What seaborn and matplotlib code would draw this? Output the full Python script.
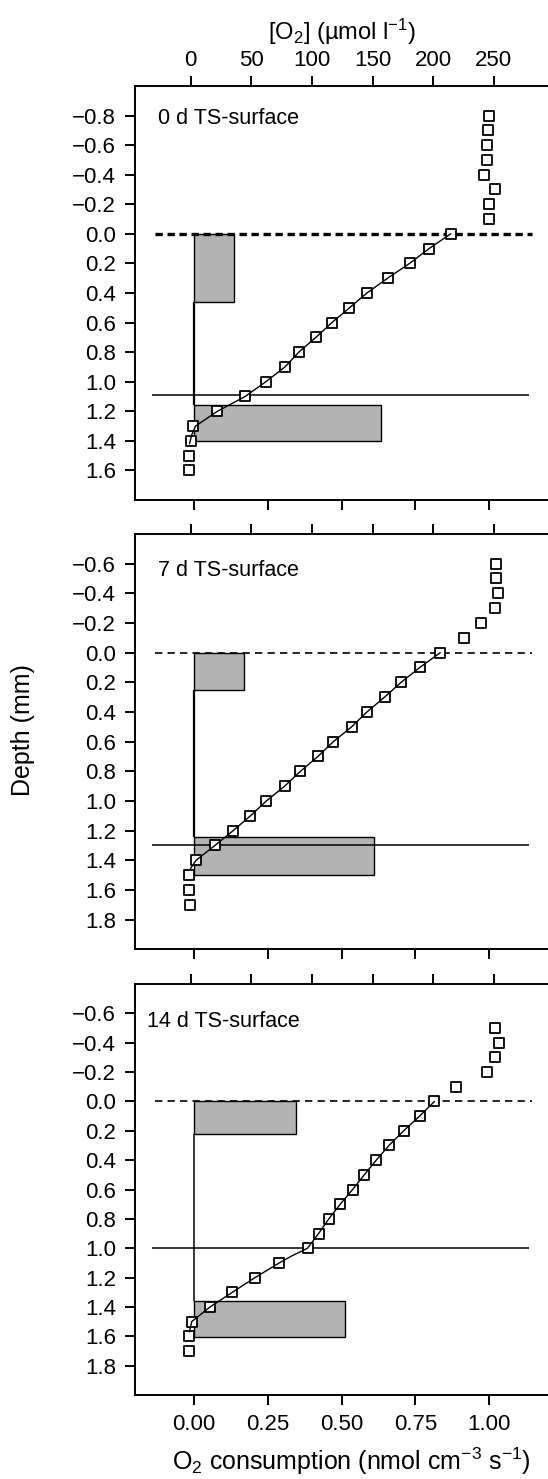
import numpy as np
import matplotlib
matplotlib.use("Agg")
import matplotlib.pyplot as plt
import seaborn as sns

sns.set_theme(style="ticks")
plt.rcParams["font.family"] = ["Liberation Sans", "DejaVu Sans"]
plt.rcParams["mathtext.fontset"] = "custom"
plt.rcParams["mathtext.rm"] = "Liberation Sans"
plt.rcParams["mathtext.it"] = "Liberation Sans:italic"
plt.rcParams["mathtext.bf"] = "Liberation Sans:bold"
plt.rcParams["axes.unicode_minus"] = True

# ---------------- data ----------------
panel_titles = ["0 d TS-surface", "7 d TS-surface", "14 d TS-surface"]

# measured O2 micro-profiles: depth (mm) and [O2] (umol/l)
depth_0d = [-0.8, -0.7, -0.6, -0.5, -0.4, -0.3, -0.2, -0.1, 0.0, 0.1, 0.2, 0.3, 0.4,
            0.5, 0.6, 0.7, 0.8, 0.9, 1.0, 1.1, 1.2, 1.3, 1.4, 1.5, 1.6]
o2_0d = [245.9, 245.0, 244.5, 244.5, 242.3, 251.2, 245.9, 245.9, 214.5, 196.6, 180.6,
         162.4, 145.4, 131.0, 116.5, 103.3, 89.2, 77.8, 62.0, 44.9, 21.5, 1.5, 0.3,
         -1.4, -1.4]

depth_7d = [-0.6, -0.5, -0.4, -0.3, -0.2, -0.1, 0.0, 0.1, 0.2, 0.3, 0.4, 0.5, 0.6,
            0.7, 0.8, 0.9, 1.0, 1.1, 1.2, 1.3, 1.4, 1.5, 1.6, 1.7]
o2_7d = [252.2, 252.2, 253.3, 251.1, 239.9, 225.1, 205.9, 189.0, 173.6, 159.9, 145.4,
         132.8, 117.7, 104.9, 90.5, 77.5, 62.4, 49.3, 35.0, 20.0, 4.4, -1.1, -1.1, -0.6]

depth_14d = [-0.5, -0.4, -0.3, -0.2, -0.1, 0.0, 0.1, 0.2, 0.3, 0.4, 0.5, 0.6, 0.7,
             0.8, 0.9, 1.0, 1.1, 1.2, 1.3, 1.4, 1.5, 1.6, 1.7]
o2_14d = [250.7, 254.0, 250.7, 244.6, 219.0, 201.1, 188.9, 175.7, 163.6, 153.1, 143.2,
          133.6, 123.4, 114.0, 105.5, 96.4, 73.1, 53.1, 34.4, 16.0, 0.8, -1.4, -1.4]

# fitted model profiles
model_depth_0d = [0.0, 0.1, 0.2, 0.3, 0.4, 0.5, 0.6, 0.7, 0.8, 0.9, 1.0, 1.1, 1.2,
                  1.3, 1.36, 1.42]
model_o2_0d = [214.5, 196.6, 180.6, 162.4, 145.4, 131.0, 116.5, 103.3, 89.2, 77.8,
               62.0, 44.9, 22.0, 4.0, 0.8, -1.0]

model_depth_7d = [0.0, 0.1, 0.2, 0.3, 0.4, 0.5, 0.6, 0.7, 0.8, 0.9, 1.0, 1.1, 1.2,
                  1.3, 1.4, 1.46]
model_o2_7d = [205.9, 189.0, 173.6, 159.9, 145.4, 132.8, 117.7, 104.9, 90.5, 77.5,
               62.4, 49.3, 35.0, 20.0, 4.4, -0.5]

model_depth_14d = [0.0, 0.1, 0.2, 0.3, 0.4, 0.5, 0.6, 0.7, 0.8, 0.9, 1.0, 1.05, 1.1,
                   1.2, 1.3, 1.4, 1.5, 1.57]
model_o2_14d = [201.1, 188.9, 175.7, 163.6, 153.1, 143.2, 133.6, 123.4, 114.0, 105.5,
                96.4, 84.0, 73.1, 53.1, 34.4, 16.0, 0.8, -1.0]

# O2 consumption zones (nmol cm-3 s-1): top / bottom depth of each zone
zone_top_0d = [0.0, 1.158]
zone_bottom_0d = [0.464, 1.402]
zone_rate_0d = [0.135, 0.633]

zone_top_7d = [0.0, 1.242]
zone_bottom_7d = [0.254, 1.50]
zone_rate_7d = [0.170, 0.610]

zone_top_14d = [0.0, 1.363]
zone_bottom_14d = [0.222, 1.605]
zone_rate_14d = [0.346, 0.513]

# sediment surface and lower boundary depth (mm)
surface_depth = [0.0, 0.0, 0.0]
boundary_depth = [1.092, 1.294, 1.0]

depth_ticks_0d = [-0.8, -0.6, -0.4, -0.2, 0.0, 0.2, 0.4, 0.6, 0.8, 1.0, 1.2, 1.4, 1.6]
depth_ticks = [-0.6, -0.4, -0.2, 0.0, 0.2, 0.4, 0.6, 0.8, 1.0, 1.2, 1.4, 1.6, 1.8]
rate_ticks = [0.0, 0.25, 0.5, 0.75, 1.0]
o2_ticks = [0, 50, 100, 150, 200, 250]

# ---------------- layout ----------------
W, H = 548, 1479
fig = plt.figure(figsize=(W / 100, H / 100), dpi=100)

LEFT_PX = 135.0
XLIM_RATE = (-0.198, 1.198)
XLIM_O2 = (-45.96, 294.8)
LINE_X = (-0.14, 1.135)
DASH_X = (-0.13, 1.145)
BAR_GREY = "#b3b3b3"
TICK_FS = 16
TITLE_FS = 15.5
SPINE_LW = 1.4

panels = [
    dict(top=86, bottom=500, ylim=(1.8, -1.0), yticks=depth_ticks_0d,
         depth=depth_0d, o2=o2_0d, mdepth=model_depth_0d, mo2=model_o2_0d,
         ztop=zone_top_0d, zbot=zone_bottom_0d, zrate=zone_rate_0d,
         title_xy=(-0.121, -0.78), dash_lw=2.4, dash=(2.2, 1.4), step_lw=1.6),
    dict(top=534, bottom=949.3, ylim=(2.0, -0.8), yticks=depth_ticks,
         depth=depth_7d, o2=o2_7d, mdepth=model_depth_7d, mo2=model_o2_7d,
         ztop=zone_top_7d, zbot=zone_bottom_7d, zrate=zone_rate_7d,
         title_xy=(-0.121, -0.555), dash_lw=1.2, dash=(4.4, 3.1), step_lw=1.6),
    dict(top=984, bottom=1395, ylim=(2.0, -0.8), yticks=depth_ticks,
         depth=depth_14d, o2=o2_14d, mdepth=model_depth_14d, mo2=model_o2_14d,
         ztop=zone_top_14d, zbot=zone_bottom_14d, zrate=zone_rate_14d,
         title_xy=(-0.158, -0.546), dash_lw=1.2, dash=(4.4, 3.1), step_lw=1.1),
]

for i, p in enumerate(panels):
    ax = fig.add_axes([LEFT_PX / W, 1 - p["bottom"] / H,
                       (W - LEFT_PX) / W, (p["bottom"] - p["top"]) / H])
    ax.set_xlim(XLIM_RATE)
    ax.set_ylim(p["ylim"])

    # consumption rate zones
    heights = np.subtract(p["zbot"], p["ztop"])
    ax.barh(p["ztop"], p["zrate"], height=heights, left=0, align="edge",
            color=BAR_GREY, edgecolor="black", linewidth=1.0, zorder=2)
    ax.vlines(0, p["zbot"][0], p["ztop"][1], color="black",
              linewidth=p["step_lw"], zorder=3)

    # sediment surface and lower boundary
    ax.hlines(surface_depth[i], DASH_X[0], DASH_X[1], color="black",
              linewidth=p["dash_lw"], linestyles=[(0, p["dash"])], zorder=4)
    ax.hlines(boundary_depth[i], LINE_X[0], LINE_X[1], color="black",
              linewidth=1.1, zorder=4)

    ax.text(p["title_xy"][0], p["title_xy"][1], panel_titles[i],
            ha="left", va="center", fontsize=TITLE_FS, color="black")

    ax.set_yticks(p["yticks"])
    ax.set_xticks(rate_ticks)
    ax.tick_params(axis="both", which="major", direction="out", length=7.5,
                   width=SPINE_LW, colors="black", labelsize=TICK_FS, pad=6,
                   top=False, right=False)
    ax.tick_params(axis="x", labelbottom=(i == 2))
    for side in ("left", "top", "bottom"):
        ax.spines[side].set_visible(True)
        ax.spines[side].set_linewidth(SPINE_LW)
        ax.spines[side].set_color("black")
    ax.spines["right"].set_visible(False)

    # oxygen profile on the upper axis
    ax2 = ax.twiny()
    ax2.set_xlim(XLIM_O2)
    sns.scatterplot(x=p["o2"], y=p["depth"], ax=ax2, marker="s", s=46,
                    facecolor="white", edgecolor="black", linewidth=1.3,
                    zorder=5, legend=False)
    sns.lineplot(x=p["mo2"], y=p["mdepth"], ax=ax2, sort=False, orient="y",
                 estimator=None, color="black", linewidth=1.0, zorder=6)
    ax2.set_xlim(XLIM_O2)
    ax.set_ylim(p["ylim"])
    ax2.set_xticks(o2_ticks)
    ax2.tick_params(axis="x", direction="out", length=7.5, width=SPINE_LW,
                    colors="black", labelsize=TICK_FS, pad=3,
                    top=True, labeltop=(i == 0), bottom=False, labelbottom=False)
    for s in ax2.spines.values():
        s.set_visible(False)
    ax2.set_xlabel("")
    ax2.set_ylabel("")
    ax.set_xlabel("")
    ax.set_ylabel("")

fig.text(341.7 / W, 1 - 31.7 / H, "[O$_2$] (µmol l$^{-1}$)",
         ha="center", va="center", fontsize=17, color="black")
fig.text(22.7 / W, 1 - 730 / H, "Depth (mm)", rotation=90,
         ha="center", va="center", fontsize=18, color="black")
fig.text(351 / W, 1 - 1461.7 / H, "O$_2$ consumption (nmol cm$^{-3}$ s$^{-1}$)",
         ha="center", va="center", fontsize=18, color="black")

fig.savefig("out.png", dpi=100)
